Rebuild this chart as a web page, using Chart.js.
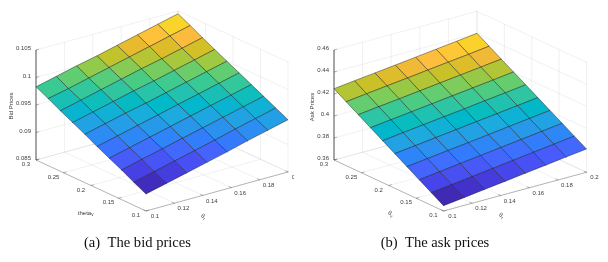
<!DOCTYPE html>
<html><head><meta charset="utf-8">
<style>html,body{margin:0;padding:0;background:#fff;overflow:hidden;width:608px;height:262px;position:relative}canvas{position:absolute;top:0}</style>
<script src="https://cdn.jsdelivr.net/npm/chart.js@4"></script>
</head><body>
<canvas id="bid" width="313" height="262" style="left:-19px"></canvas>
<canvas id="ask" width="330" height="262" style="left:270px"></canvas>
<script>
const thetaR = [0.1,0.1143,0.1286,0.1429,0.1571,0.1714,0.1857,0.2];
const thetaV = [0.1,0.1222,0.1444,0.1667,0.1889,0.2111,0.2333,0.2556,0.2778,0.3];
const thetaRTicks = [0.1,0.12,0.14,0.16,0.18,0.2];
const thetaVTicks = [0.1,0.15,0.2,0.25,0.3];
const bidTicks = [0.085,0.09,0.095,0.1,0.105];
const askTicks = [0.36,0.38,0.4,0.42,0.44,0.46];
const bidPrices = [
[.0881,.0890,.0899,.0908,.0917,.0927,.0936,.0945],
[.0892,.0901,.0910,.0919,.0928,.0938,.0947,.0956],
[.0904,.0913,.0922,.0931,.0940,.0949,.0958,.0967],
[.0915,.0924,.0933,.0942,.0951,.0960,.0969,.0978],
[.0926,.0935,.0944,.0953,.0962,.0971,.0980,.0989],
[.0938,.0947,.0956,.0964,.0973,.0982,.0991,.1000],
[.0949,.0958,.0967,.0976,.0984,.0993,.1002,.1011],
[.0960,.0969,.0978,.0987,.0996,.1004,.1013,.1022],
[.0972,.0980,.0989,.0998,.1007,.1016,.1025,.1034],
[.0983,.0992,.1001,.1009,.1018,.1027,.1036,.1045]];
const askPrices = [
[.3648,.3671,.3695,.3718,.3742,.3765,.3789,.3812],
[.3715,.3738,.3761,.3784,.3808,.3831,.3854,.3877],
[.3781,.3804,.3827,.3850,.3873,.3896,.3919,.3942],
[.3848,.3871,.3894,.3916,.3939,.3962,.3985,.4008],
[.3915,.3937,.3960,.3982,.4005,.4027,.4050,.4073],
[.3981,.4004,.4026,.4048,.4070,.4093,.4115,.4138],
[.4048,.4070,.4092,.4114,.4136,.4158,.4180,.4203],
[.4115,.4137,.4158,.4180,.4202,.4224,.4246,.4268],
[.4181,.4203,.4225,.4246,.4268,.4290,.4311,.4334],
[.4248,.4270,.4291,.4312,.4334,.4356,.4378,.4400]];

// parula colormap (MATLAB, 64 levels)
const parula = [[.2422,.1504,.6603],[.2504,.1650,.7076],[.2578,.1818,.7511],[.2647,.1978,.7952],[.2706,.2147,.8364],[.2751,.2342,.8710],[.2783,.2559,.8991],[.2803,.2782,.9221],[.2813,.3006,.9414],[.2810,.3228,.9579],[.2795,.3447,.9717],[.2760,.3667,.9829],[.2699,.3892,.9906],[.2602,.4123,.9952],[.2440,.4358,.9988],[.2206,.4603,.9973],[.1963,.4847,.9892],[.1834,.5074,.9798],[.1786,.5289,.9682],[.1764,.5499,.9520],[.1687,.5703,.9359],[.1540,.5902,.9218],[.1460,.6091,.9079],[.1380,.6276,.8973],[.1248,.6459,.8883],[.1113,.6635,.8763],[.0952,.6798,.8598],[.0689,.6948,.8394],[.0297,.7082,.8163],[.0036,.7203,.7917],[.0067,.7312,.7660],[.0433,.7411,.7394],[.0964,.7500,.7120],[.1408,.7584,.6842],[.1717,.7670,.6554],[.1938,.7758,.6251],[.2161,.7843,.5923],[.2470,.7918,.5567],[.2906,.7973,.5188],[.3406,.8008,.4789],[.3909,.8029,.4354],[.4456,.8024,.3909],[.5044,.7993,.3480],[.5616,.7942,.3045],[.6174,.7876,.2612],[.6720,.7793,.2227],[.7242,.7698,.1910],[.7738,.7598,.1646],[.8203,.7498,.1535],[.8634,.7406,.1596],[.9035,.7330,.1774],[.9393,.7288,.2100],[.9728,.7298,.2394],[.9956,.7434,.2371],[.9970,.7659,.2199],[.9952,.7861,.1990],[.9892,.8086,.1818],[.9786,.8310,.1661],[.9676,.8639,.1412],[.9610,.8890,.1150],[.9598,.9135,.0951],[.9628,.9373,.0814],[.9691,.9606,.0636],[.9769,.9839,.0805]];
function colorAt(t){
  t = Math.max(0, Math.min(1, t)) * (parula.length - 1);
  const i = Math.min(parula.length - 2, Math.floor(t)), f = t - i;
  const c = parula[i].map((a, k) => Math.round(255 * (a + (parula[i + 1][k] - a) * f)));
  return `rgb(${c[0]},${c[1]},${c[2]})`;
}
const GRID = 'rgba(38,38,38,0.09)', AXIS = 'rgba(38,38,38,0.5)', EDGE = 'rgba(20,20,20,0.72)', TXT = '#3c3c3c';
const PLOT_H = 224;

function makePanel(cfg){
  const P = (r, v, z) => {
    const X = (r - .1) / .1, Y = (v - .1) / .2, Z = (z - cfg.ticks[0]) / (cfg.ticks[cfg.ticks.length - 1] - cfg.ticks[0]);
    return { x: cfg.origin[0] + X * cfg.axR[0] + Y * cfg.axV[0] - cfg.left,
             y: cfg.origin[1] + X * cfg.axR[1] + Y * cfg.axV[1] - Z * cfg.height };
  };
  const zMin = cfg.ticks[0], zMax = cfg.ticks[cfg.ticks.length - 1];
  const sets = [];
  const seg = (pts, color, w, order) => sets.push({ data: pts, showLine: true, borderColor: color, borderWidth: w, pointRadius: 0, fill: false, clip: false, order });
  thetaRTicks.forEach(r => {
    seg([P(r, .1, zMin), P(r, .3, zMin), P(r, .3, zMax)], GRID, .7, 10);
  });
  thetaVTicks.forEach(v => {
    seg([P(.1, v, zMin), P(.2, v, zMin), P(.2, v, zMax)], GRID, .7, 10);
  });
  cfg.ticks.forEach(z => {
    seg([P(.1, .3, z), P(.2, .3, z), P(.2, .1, z)], GRID, .7, 10);
  });
  seg([P(.1, .3, zMax), P(.1, .3, zMin), P(.1, .1, zMin), P(.2, .1, zMin)], AXIS, .6, 9);
  thetaRTicks.forEach(r => seg([P(r, .1, zMin), P(r, .104, zMin)], AXIS, .6, 9));
  thetaVTicks.forEach(v => seg([P(.1, v, zMin), P(.102, v, zMin)], AXIS, .6, 9));
  cfg.ticks.forEach(z => seg([P(.1, .3, z), P(.102, .3, z)], AXIS, .6, 9));
  const pz = cfg.prices, cMin = pz[0][0], cMax = pz[pz.length - 1][pz[0].length - 1];
  for (let i = 0; i < thetaV.length - 1; i++) for (let j = 0; j < thetaR.length - 1; j++) {
    const cellValue = (pz[i][j] + pz[i][j + 1]) / 2;
    sets.push({
      data: [P(thetaR[j], thetaV[i], pz[i][j]), P(thetaR[j + 1], thetaV[i], pz[i][j + 1]), P(thetaR[j + 1], thetaV[i + 1], pz[i + 1][j + 1]), P(thetaR[j], thetaV[i + 1], pz[i + 1][j]), P(thetaR[j], thetaV[i], pz[i][j])],
      showLine: true, borderColor: EDGE, borderWidth: .6, backgroundColor: colorAt((cellValue - cMin) / (cMax - cMin)),
      pointRadius: 0, fill: 'shape', clip: false, order: 1
    });
  }
  const tickText = {
    id: 'tickText',
    afterDraw(chart){
      const c = chart.ctx, sx = chart.scales.x, sy = chart.scales.y;
      const put = (txt, pt, dx, dy, align) => {
        c.textAlign = align; c.textBaseline = 'middle';
        c.fillText(txt, sx.getPixelForValue(pt.x) + dx, sy.getPixelForValue(pt.y) + dy);
      };
      c.save();
      c.fillStyle = TXT; c.font = '6px "Liberation Sans"';
      cfg.ticks.forEach(z => put(String(z), P(.1, .3, z), -5, -1.5, 'right'));
      thetaVTicks.forEach(v => put(String(v), P(.1, v, zMin), -10, 4.5, 'center'));
      thetaRTicks.forEach(r => put(String(r), P(r, .1, zMin), r === .2 ? 8 : 9, 5.5, 'center'));
      c.save();
      c.translate(sx.getPixelForValue(cfg.zLabel[1] - cfg.left), sy.getPixelForValue(cfg.zLabel[2]));
      c.rotate(-Math.PI / 2); c.textAlign = 'center'; c.fillText(cfg.zLabel[0], 0, 0);
      c.restore();
      const sub = (name, s, px, py, rot) => {
        c.save();
        c.translate(sx.getPixelForValue(px - cfg.left), sy.getPixelForValue(py));
        c.rotate(rot);
        c.textAlign = 'left';
        c.font = '6px "Liberation Sans"';
        const w = c.measureText(name).width;
        c.fillText(name, -w / 2 - 1.5, 0);
        c.font = '4.5px "Liberation Sans"';
        c.fillText(s, w / 2 - 1.5, 2);
        c.restore();
      };
      sub('θ', 'r', cfg.rLabel[0], cfg.rLabel[1], .45);
      if (cfg.vName === 'theta') sub('theta', 'v', cfg.vLabel[0], cfg.vLabel[1], 0);
      else sub('θ', 'v', cfg.vLabel[0], cfg.vLabel[1], .45);
      c.restore();
    }
  };
  new Chart(document.getElementById(cfg.id), {
    type: 'scatter',
    data: { datasets: sets },
    plugins: [tickText],
    options: {
      responsive: false, animation: false, devicePixelRatio: 1,
      layout: { padding: 0 },
      elements: { line: { tension: 0, borderCapStyle: 'round', borderJoinStyle: 'round' } },
      scales: {
        x: { type: 'linear', display: false, min: 0, max: cfg.width },
        y: { type: 'linear', display: false, min: 0, max: PLOT_H, reverse: true }
      },
      plugins: {
        legend: { display: false }, tooltip: { enabled: false },
        title: { display: true, position: 'bottom', text: cfg.caption, color: '#111',
                 font: { family: '"Liberation Serif"', size: 14.6, weight: 'normal', lineHeight: 1.2 }, padding: { top: 10.6, bottom: 9.9 } }
      }
    }
  });
}
makePanel({ id: 'bid', left: -19, width: 313, caption: '(a)  The bid prices', ticks: bidTicks, prices: bidPrices,
  origin: [146, 211], axR: [142, -39], axV: [-110, -51], height: 110,
  zLabel: ['Bid Prices', 11, 106], rLabel: [204, 217], vLabel: [86, 213], vName: 'theta' });
makePanel({ id: 'ask', left: 270, width: 330, caption: '(b)  The ask prices', ticks: askTicks, prices: askPrices,
  origin: [443.5, 211], axR: [143, -38.7], axV: [-109.5, -51], height: 110,
  zLabel: ['Ask Prices', 312, 107], rLabel: [502, 216], vLabel: [391, 214], vName: 'greek' });
</script>
</body></html>
